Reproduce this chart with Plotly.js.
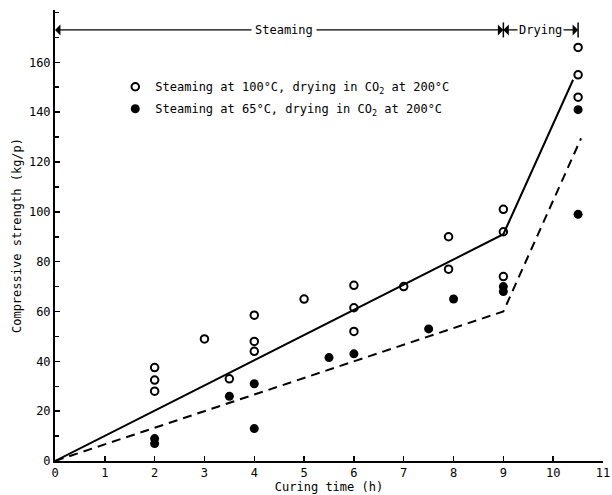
<!DOCTYPE html>
<html>
<head>
<meta charset="utf-8">
<script src="https://cdn.plot.ly/plotly-3.0.1.min.js"></script>
<style>html,body{margin:0;padding:0;background:#fff;}#chart{width:612px;height:495px;}</style>
</head>
<body>
<div id="chart"></div>
<script>
// Open circles: steaming at 100°C
const openX = [2, 2, 2, 3, 3.5, 4, 4, 4, 5, 6, 6, 6, 7, 7.9, 7.9, 9, 9, 9, 10.5, 10.5, 10.5];
const openY = [37.5, 32.5, 28, 49, 33, 58.5, 48, 44, 65, 70.5, 61.5, 52, 70, 90, 77, 101, 92, 74, 166, 155, 146];
// Filled circles: steaming at 65°C
const fillX = [2, 2, 3.5, 4, 4, 5.5, 6, 7.5, 8, 9, 9, 10.5, 10.5];
const fillY = [9, 7, 26, 31, 13, 41.5, 43, 53, 65, 70, 68, 141, 99];
// Fitted lines
const solidX = [0, 9, 10.4];
const solidY = [0, 91, 153];
const dashX = [0, 9, 10.56];
const dashY = [0, 60, 129.5];
// Phase markers
const phaseX = [0, 9, 10.5];
const phaseY = 173;
const phaseLabels = ["Steaming", "Drying"];
const labelX = [4.6, 9.74];
// Tick labels
const xTicks = [0, 1, 2, 3, 4, 5, 6, 7, 8, 9, 10, 11];
const yTicks = [0, 20, 40, 60, 80, 100, 120, 140, 160];

const legendNames = [
  "Steaming at 100°C, drying in CO<sub>2</sub> at 200°C",
  "Steaming at 65°C, drying in CO<sub>2</sub> at 200°C"
];

const FONT = "DejaVu Sans Mono, Liberation Mono, monospace";

const traces = [
  {x: solidX, y: solidY, mode: "lines", line: {color: "#000", width: 2}, showlegend: false, hoverinfo: "skip"},
  {x: dashX, y: dashY, mode: "lines", line: {color: "#000", width: 2, dash: "9px,6px"}, showlegend: false, hoverinfo: "skip"},
  {x: openX, y: openY, mode: "markers", name: legendNames[0], legendgroup: "a",
   marker: {symbol: "circle-open", size: 7.5, color: "#000", line: {width: 2, color: "#000"}}},
  {x: fillX, y: fillY, mode: "markers", name: legendNames[1], legendgroup: "b",
   marker: {symbol: "circle", size: 9, color: "#000"}}
];

const ann = [];
function arrow(fromX, toX) {
  ann.push({x: toX, y: phaseY, ax: fromX, ay: phaseY, axref: "x", ayref: "y", xref: "x", yref: "y",
    text: "", showarrow: true, arrowhead: 1, arrowsize: 1.4, arrowwidth: 1.3, arrowcolor: "#000"});
}
arrow(labelX[0], phaseX[0]);
arrow(labelX[0], phaseX[1]);
arrow(labelX[1], phaseX[1]);
arrow(labelX[1], phaseX[2]);
ann.push({x: labelX[0], y: phaseY, xref: "x", yref: "y", text: phaseLabels[0], showarrow: false,
  bgcolor: "#fff", borderpad: 3, font: {family: FONT, size: 12, color: "#000"}});
ann.push({x: labelX[1], y: phaseY, xref: "x", yref: "y", text: phaseLabels[1], showarrow: false,
  bgcolor: "#fff", borderpad: 1, font: {family: FONT, size: 12, color: "#000"}});

const shapes = [
  {type: "line", xref: "x", yref: "y", x0: phaseX[1], x1: phaseX[1], y0: phaseY - 3, y1: phaseY + 3, line: {color: "#000", width: 1.5}},
  {type: "line", xref: "x", yref: "y", x0: phaseX[2], x1: phaseX[2], y0: phaseY - 3, y1: phaseY + 3, line: {color: "#000", width: 1.5}}
];

const layout = {
  width: 612, height: 495,
  margin: {l: 55, r: 9, t: 10, b: 34},
  paper_bgcolor: "#fff", plot_bgcolor: "#fff",
  font: {family: FONT, size: 12, color: "#000"},
  showlegend: true,
  legend: {x: 0.11, y: 0.862, xanchor: "left", yanchor: "top", bgcolor: "rgba(0,0,0,0)",
    font: {family: FONT, size: 12, color: "#000"}, itemwidth: 30, traceorder: "grouped", tracegroupgap: 3},
  xaxis: {range: [0, 11], tickvals: xTicks, showgrid: false, zeroline: false, ticklabeloverflow: "allow",
    showline: true, linecolor: "#000", linewidth: 2, ticks: "inside", ticklen: 5, tickwidth: 1.5, tickcolor: "#000",
    tickfont: {family: FONT, size: 12}, title: {text: "Curing time (h)", standoff: 2, font: {family: FONT, size: 12}}},
  yaxis: {range: [0, 181], tickvals: yTicks, showgrid: false, zeroline: false,
    showline: true, linecolor: "#000", linewidth: 2, ticks: "inside", ticklen: 5, tickwidth: 1.5, tickcolor: "#000",
    minor: {dtick: 10, ticks: "inside", ticklen: 4, tickwidth: 1.5, tickcolor: "#000"},
    tickfont: {family: FONT, size: 12}, title: {text: "Compressive strength (kg/p)", standoff: 5, font: {family: FONT, size: 12}}},
  annotations: ann,
  shapes: shapes
};

Plotly.newPlot("chart", traces, layout, {displayModeBar: false, staticPlot: true});
</script>
</body>
</html>
